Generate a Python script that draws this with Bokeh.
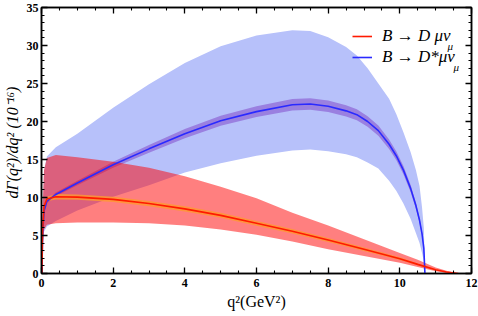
from bokeh.plotting import figure
from bokeh.models import (ColumnDataSource, Range1d, LinearAxis, Legend, LegendItem,
                          Label, SingleIntervalTicker)
from bokeh.embed import file_html
from bokeh.resources import INLINE

# ---------------- data ----------------
# B -> D mu nu
q2_D = [0.0112, 0.03, 0.07, 0.15, 0.4, 1, 2, 3, 4, 5, 6, 7, 8, 9, 10, 10.5, 11, 11.3, 11.63]
D_central = [0, 5.5, 8.8, 9.8, 10.1, 10.05, 9.75, 9.2, 8.5, 7.65, 6.6, 5.55, 4.4, 3.2, 1.95, 1.2, 0.5, 0.2, 0]
D_upper = [0, 8.5, 13.6, 15.2, 15.6, 15.3, 14.7, 13.9, 12.8, 11.4, 9.9, 8.0, 6.3, 4.5, 2.7, 1.8, 0.8, 0.35, 0]
D_lower = [0, 3.6, 5.8, 6.4, 6.6, 6.7, 6.7, 6.6, 6.3, 5.8, 5.1, 4.2, 3.2, 2.3, 1.4, 0.85, 0.3, 0.1, 0]
D_inner_hi = [0, 5.6, 9.0, 10.1, 10.45, 10.4, 10.1, 9.55, 8.85, 7.98, 6.92, 5.85, 4.67, 3.43, 2.13, 1.32, 0.56, 0.23, 0]
D_inner_lo = [0, 5.4, 8.6, 9.5, 9.75, 9.7, 9.4, 8.85, 8.15, 7.32, 6.28, 5.25, 4.13, 2.97, 1.77, 1.08, 0.44, 0.17, 0]

# B -> D* mu nu
q2_Ds = [0.0112, 0.03, 0.07, 0.15, 0.4, 1, 2, 3, 4, 5, 6, 7, 7.5,
         8, 8.5, 8.8, 9.1, 9.4, 9.7, 9.9, 10.1, 10.3, 10.45, 10.55, 10.62, 10.67, 10.7]
Ds_central = [0, 5.0, 8.2, 9.5, 10.4, 11.9, 14.3, 16.4, 18.4, 20.1, 21.3, 22.2, 22.3,
              22.0, 21.4, 20.9, 20.0, 18.8, 17.0, 15.5, 13.6, 11.2, 8.9, 7.0, 5.2, 3.3, 0]
Ds_upper = [0, 8.0, 13.5, 15.4, 16.6, 18.4, 21.8, 24.9, 27.7, 29.9, 31.3, 32.0, 31.9,
            31.1, 29.8, 28.7, 27.0, 25.0, 23.0, 21.0, 18.6, 16.0, 13.6, 11.5, 8.7, 6.0, 0]
Ds_lower = [0, 3.5, 5.5, 6.2, 6.9, 8.3, 10.1, 11.6, 13.3, 14.5, 15.5, 16.2, 16.3,
            16.1, 15.7, 15.3, 14.6, 13.8, 12.2, 10.9, 9.2, 7.2, 5.3, 4.0, 2.7, 1.6, 0]
Ds_inner_hi = [0, 5.1, 8.35, 9.7, 10.65, 12.2, 14.7, 16.9, 19.0, 20.75, 22.0, 22.95, 23.05,
               22.75, 22.15, 21.62, 20.7, 19.47, 17.62, 16.08, 14.13, 11.67, 9.3, 7.33, 5.47, 3.5, 0]
Ds_inner_lo = [0, 4.9, 8.05, 9.3, 10.15, 11.6, 13.9, 15.9, 17.8, 19.45, 20.6, 21.45, 21.55,
               21.25, 20.65, 20.18, 19.3, 18.13, 16.38, 14.92, 13.07, 10.73, 8.5, 6.67, 4.93, 3.1, 0]

labels = ["B \u2192 D \u03bc\u03bd", "B \u2192 D*\u03bc\u03bd"]
sub_label = "\u03bc"
x_label = "q\u00b2(GeV\u00b2)"
y_label = "d\u0393(q\u00b2)/dq\u00b2  (10\u207b\u00b9\u2076)"

src_D = ColumnDataSource(dict(q=q2_D, c=D_central, hi=D_upper, lo=D_lower, ihi=D_inner_hi, ilo=D_inner_lo))
src_Ds = ColumnDataSource(dict(q=q2_Ds, c=Ds_central, hi=Ds_upper, lo=Ds_lower, ihi=Ds_inner_hi, ilo=Ds_inner_lo))

# ---------------- figure ----------------
p = figure(width=478, height=316, output_backend="svg", toolbar_location=None,
           x_range=Range1d(0, 12), y_range=Range1d(0, 35),
           min_border_left=41, min_border_right=7, min_border_top=7, min_border_bottom=43,
           x_axis_label=x_label, y_axis_label=y_label)
p.grid.visible = False
p.outline_line_color = "black"
p.outline_line_width = 1.5
p.background_fill_color = "white"
p.border_fill_color = "white"

xb = p.below[0]
yl = p.left[0]
xb.ticker = SingleIntervalTicker(interval=2, num_minor_ticks=4)
yl.ticker = SingleIntervalTicker(interval=5, num_minor_ticks=5)

top_ax = LinearAxis(ticker=SingleIntervalTicker(interval=2, num_minor_ticks=4))
right_ax = LinearAxis(ticker=SingleIntervalTicker(interval=5, num_minor_ticks=5))
p.add_layout(top_ax, "above")
p.add_layout(right_ax, "right")

for ax in [xb, yl, top_ax, right_ax]:
    ax.axis_line_width = 1.5
    ax.axis_line_color = "black"
    ax.major_tick_in = 6
    ax.major_tick_out = 0
    ax.minor_tick_in = 3
    ax.minor_tick_out = 0
    ax.major_tick_line_width = 1.3
    ax.minor_tick_line_width = 1.1
    ax.major_tick_line_color = "black"
    ax.minor_tick_line_color = "black"
    ax.major_label_text_font = "Liberation Serif"
    ax.major_label_text_font_style = "bold"
    ax.major_label_text_font_size = "12px"
    ax.major_label_text_color = "black"
    ax.axis_label_text_font = "Liberation Serif"
    ax.axis_label_text_font_size = "16px"
    ax.axis_label_text_color = "black"

# mirrored axes: ticks only, labels not drawn
for ax in [top_ax, right_ax]:
    ax.major_label_text_color = None
    ax.major_label_text_font_size = "1px"
    ax.major_label_standoff = 0

xb.axis_label_text_font_style = "normal"
xb.major_label_standoff = 5
xb.axis_label_standoff = 3
yl.axis_label_text_font_style = "italic"
yl.axis_label_standoff = 3
yl.major_label_standoff = 3

# bands
p.varea(x="q", y1="lo", y2="hi", source=src_Ds, fill_color="#b7c1fa", fill_alpha=1.0)
p.varea(x="q", y1="ilo", y2="ihi", source=src_Ds, fill_color="#9a80e0", fill_alpha=1.0)
p.varea(x="q", y1="lo", y2="hi", source=src_D, fill_color="#ff0000", fill_alpha=0.5)
p.varea(x="q", y1="ilo", y2="ihi", source=src_D, fill_color="#ff9a30", fill_alpha=0.8)

# central lines
l_Ds = p.line(x="q", y="c", source=src_Ds, line_color="#2a2aff", line_width=1.6)
l_D = p.line(x="q", y="c", source=src_D, line_color="#ff1a00", line_width=1.6)

legend = Legend(items=[LegendItem(label=labels[0], renderers=[l_D]),
                       LegendItem(label=labels[1], renderers=[l_Ds])],
                location=(311, 206), padding=0, margin=0, spacing=1,
                glyph_width=20, glyph_height=20, label_height=20, label_standoff=10,
                border_line_alpha=0, background_fill_alpha=0,
                label_text_font="Liberation Serif", label_text_font_style="italic",
                label_text_font_size="17px", label_text_color="black")
p.add_layout(legend)

for (lx, ly) in [(11.33, 30.0), (11.5, 27.2)]:
    p.add_layout(Label(x=lx, y=ly, text=sub_label, text_font="Liberation Serif",
                       text_font_style="italic", text_font_size="11px",
                       text_baseline="middle", text_color="black"))

open("out.html", "w").write(file_html(p, INLINE))
